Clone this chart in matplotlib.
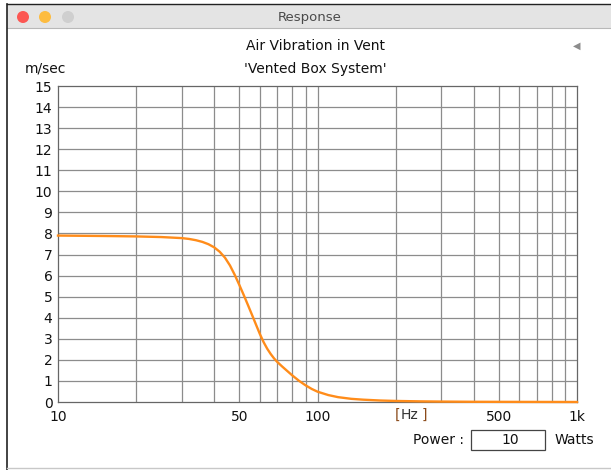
import matplotlib.pyplot as plt
import matplotlib.patches as mpatches

# air velocity in vent (m/sec)
freq = [10, 15, 20, 25, 30, 32, 34, 36, 38, 40, 42, 44, 46, 48, 50, 52, 54, 56,
        58, 60, 62, 64, 66, 68, 70, 73, 76, 80, 85, 90, 95, 100, 110, 120, 135,
        150, 175, 200, 250, 300, 400, 600, 1000]
vel = [7.90, 7.88, 7.86, 7.83, 7.78, 7.74, 7.68, 7.60, 7.49, 7.34, 7.13, 6.85,
       6.48, 6.03, 5.55, 5.07, 4.59, 4.12, 3.66, 3.22, 2.84, 2.53, 2.28, 2.07,
       1.90, 1.69, 1.50, 1.26, 1.00, 0.79, 0.62, 0.49, 0.33, 0.23, 0.15, 0.11,
       0.07, 0.05, 0.03, 0.02, 0.01, 0.005, 0.0]

xtick_pos = [10, 50, 100, 500, 1000]
xtick_lab = ['10', '50', '100', '500', '1k']
ytick_pos = list(range(0, 16))

W, H = 611, 470
fig = plt.figure(figsize=(W / 100, H / 100), dpi=100)
fig.patch.set_facecolor('white')

def px(x, y):
    return x / W, 1 - y / H

# window chrome
fig.patches.append(mpatches.Rectangle(px(7, 28), (W - 7) / W, 24 / H,
                   transform=fig.transFigure, facecolor='#e4e4e4', edgecolor='none'))
fig.lines.append(plt.Line2D([7 / W, 1], [1 - 28 / H] * 2, transform=fig.transFigure, color='#b8b8b8', lw=0.8))
fig.lines.append(plt.Line2D([7 / W] * 2, [1 - 4 / H, 0], transform=fig.transFigure, color='#222222', lw=1.2))
fig.lines.append(plt.Line2D([7 / W, 1], [1 - 4 / H] * 2, transform=fig.transFigure, color='#222222', lw=1.0))
fig.lines.append(plt.Line2D([7 / W, 1], [1 - 468 / H] * 2, transform=fig.transFigure, color='#c8c8c8', lw=1.0))
for cx, col in [(23, '#fc5753'), (45, '#fdbc40'), (68, '#cfcfcf')]:
    fig.patches.append(mpatches.Ellipse(px(cx, 17), 12 / W, 12 / H, transform=fig.transFigure,
                       facecolor=col, edgecolor='none'))
fig.text(*px(310, 17), 'Response', ha='center', va='center', fontsize=9.5, color='#4a4a4a')

ax = fig.add_axes([58 / W, 1 - 402 / H, (577 - 58) / W, (402 - 86) / H])
ax.plot(freq, vel, color='#ff8c1a', lw=1.7, zorder=3, clip_on=False,
        solid_joinstyle='round')
ax.set_xscale('log')
ax.set_xlim(10, 1000)
ax.set_ylim(0, 15)

minor = [m * d for d in (10, 100) for m in range(2, 10)]
for f in minor + [100]:
    ax.axvline(f, color='#8c8c8c', lw=0.9, zorder=1)
for v in ytick_pos[1:-1]:
    ax.axhline(v, color='#8c8c8c', lw=0.9, zorder=1)
for s in ax.spines.values():
    s.set_color('#666666')
    s.set_linewidth(0.9)

ax.set_xticks(xtick_pos)
ax.set_xticklabels(xtick_lab)
ax.set_xticks([], minor=True)
ax.set_yticks(ytick_pos)
ax.tick_params(length=0, labelsize=10, colors='#111111', pad=4)
ax.tick_params(axis='x', pad=6)

fig.text(*px(315, 46), 'Air Vibration in Vent', ha='center', va='center', fontsize=10, color='#111111')
fig.text(*px(315, 69), "'Vented Box System'", ha='center', va='center', fontsize=10, color='#111111')
fig.text(*px(45, 69), 'm/sec', ha='center', va='center', fontsize=10, color='#111111')
fig.text(*px(577, 46), '\u25c0', ha='center', va='center', fontsize=7, color='#8c8c8c')

fig.text(*px(397, 415), '[', ha='center', va='center', fontsize=10, color='#8b4a1a')
fig.text(*px(410, 415), 'Hz', ha='center', va='center', fontsize=10, color='#333333')
fig.text(*px(424, 415), ']', ha='center', va='center', fontsize=10, color='#8b4a1a')

fig.text(*px(464, 440), 'Power :', ha='right', va='center', fontsize=10, color='#111111')
fig.patches.append(mpatches.Rectangle(px(471, 450), 74 / W, 20 / H, transform=fig.transFigure,
                   facecolor='white', edgecolor='#444444', lw=0.9))
fig.text(*px(510, 440), '10', ha='center', va='center', fontsize=10, color='#111111')
fig.text(*px(555, 440), 'Watts', ha='left', va='center', fontsize=10, color='#111111')

fig.savefig('out.png', dpi=100, facecolor=fig.get_facecolor())
